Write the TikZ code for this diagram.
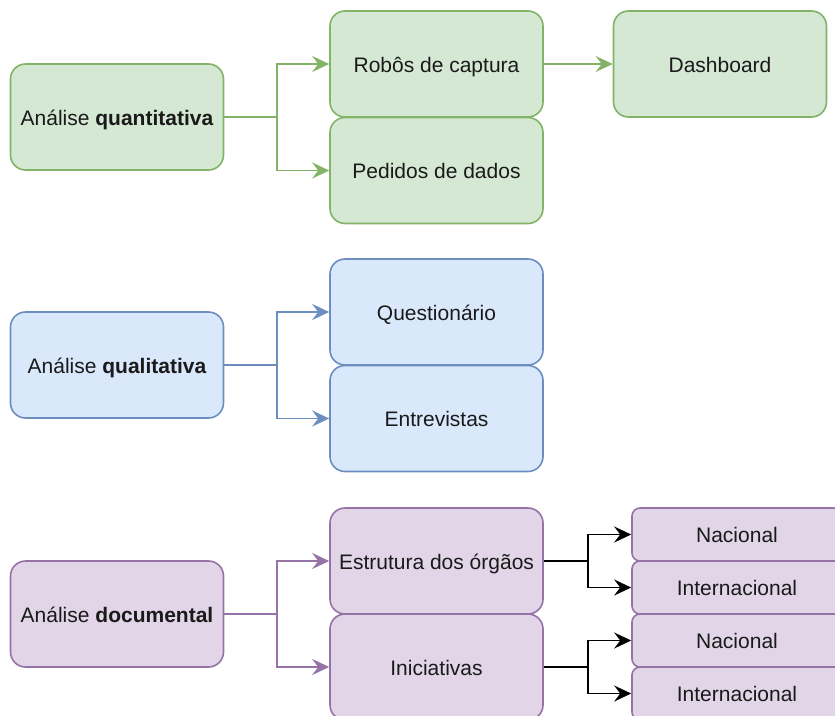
\documentclass[tikz,border=0pt]{standalone}
\usepackage{fontspec}
\setmainfont{Liberation Sans}
\usetikzlibrary{arrows.meta}
\definecolor{gfill}{HTML}{D5E8D4}\definecolor{gline}{HTML}{82B366}
\definecolor{bfill}{HTML}{DAE8FC}\definecolor{bline}{HTML}{6C8EBF}
\definecolor{pfill}{HTML}{E1D5E7}\definecolor{pline}{HTML}{9673A6}
\definecolor{txt}{HTML}{1A1A1A}
\tikzset{
  box/.style={draw, line width=1.6pt, rounded corners=15pt, minimum width=213pt, minimum height=106pt, inner sep=0pt, text height=16pt, text depth=0pt, font=\fontsize{21}{25}\selectfont, text=txt},
  smallbox/.style={draw=pline, fill=pfill, line width=1.6pt, rounded corners=8pt, minimum width=210pt, minimum height=53pt, inner sep=0pt, text height=16pt, text depth=0pt, font=\fontsize{21}{25}\selectfont, text=txt},
  gbox/.style={box, fill=gfill, draw=gline},
  bbox/.style={box, fill=bfill, draw=bline},
  pbox/.style={box, fill=pfill, draw=pline},
  arr/.style={line width=1.8pt, -{Stealth[length=17pt,width=16pt,inset=6pt]}},
}
\begin{document}
\begin{tikzpicture}[x=1pt,y=-1pt]
\useasboundingbox (0,0) rectangle (835,715);
% quantitative
\node[gbox] (qa) at (117,117) {Análise \textbf{quantitativa}};
\node[gbox] (robos) at (436.5,64) {Robôs de captura};
\node[gbox] (ped) at (436.5,170.5) {Pedidos de dados};
\node[gbox] (dash) at (720,64) {Dashboard};
\draw[arr, color=gline] (qa.east) -- ++(53,0) |- (robos.west);
\draw[arr, color=gline] (qa.east) -- ++(53,0) |- (ped.west);
\draw[arr, color=gline] (robos.east) -- (dash.west);
% qualitative
\node[bbox] (ql) at (117,365) {Análise \textbf{qualitativa}};
\node[bbox] (quest) at (436.5,312) {Questionário};
\node[bbox] (entr) at (436.5,418.5) {Entrevistas};
\draw[arr, color=bline] (ql.east) -- ++(53,0) |- (quest.west);
\draw[arr, color=bline] (ql.east) -- ++(53,0) |- (entr.west);
% documental
\node[pbox] (doc) at (117,614) {Análise \textbf{documental}};
\node[pbox] (estr) at (436.5,561) {Estrutura dos órgãos};
\node[pbox] (inic) at (436.5,667) {Iniciativas};
\draw[arr, color=pline] (doc.east) -- ++(53,0) |- (estr.west);
\draw[arr, color=pline] (doc.east) -- ++(53,0) |- (inic.west);
\node[smallbox] (nac1) at (737,534.5) {Nacional};
\node[smallbox] (int1) at (737,587.5) {Internacional};
\node[smallbox] (nac2) at (737,640.5) {Nacional};
\node[smallbox] (int2) at (737,693.5) {Internacional};
\draw[arr] (estr.east) -- ++(44,0) |- (nac1.west);
\draw[arr] (estr.east) -- ++(44,0) |- (int1.west);
\draw[arr] (inic.east) -- ++(44,0) |- (nac2.west);
\draw[arr] (inic.east) -- ++(44,0) |- (int2.west);
\end{tikzpicture}
\end{document}
